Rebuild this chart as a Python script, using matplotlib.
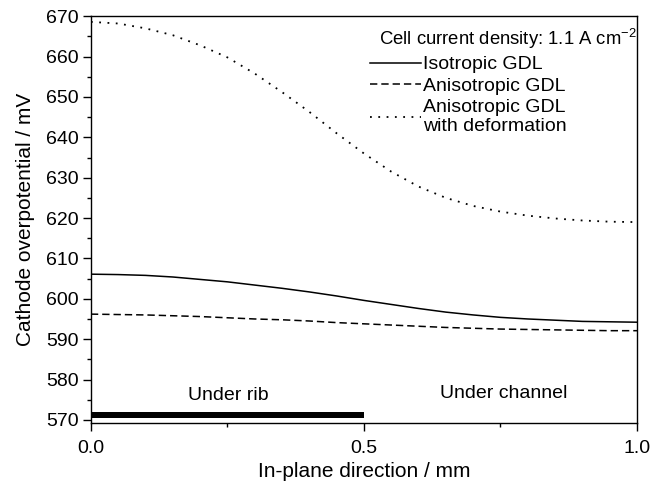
import matplotlib
matplotlib.use("Agg")
import matplotlib.pyplot as plt
from matplotlib.ticker import MultipleLocator

plt.rcParams['font.family'] = ['Liberation Sans', 'DejaVu Sans']

# in-plane position (mm)
pos = [0.0, 0.05, 0.1, 0.15, 0.2, 0.25, 0.3, 0.35, 0.4, 0.45, 0.5,
       0.55, 0.6, 0.65, 0.7, 0.75, 0.8, 0.85, 0.9, 0.95, 1.0]

# cathode overpotential (mV)
isotropic = [606.1, 606.0, 605.8, 605.4, 604.8, 604.2, 603.4, 602.6, 601.7, 600.7, 599.6,
             598.6, 597.6, 596.7, 596.0, 595.4, 595.0, 594.7, 594.4, 594.3, 594.2]
anisotropic = [596.2, 596.1, 596.0, 595.8, 595.6, 595.3, 595.0, 594.8, 594.5, 594.1, 593.8,
               593.5, 593.2, 592.9, 592.7, 592.5, 592.4, 592.3, 592.2, 592.1, 592.1]
deformed = [668.6, 668.2, 667.0, 665.3, 662.8, 659.8, 655.8, 651.2, 646.3, 641.0, 636.0,
            631.5, 627.8, 625.0, 623.0, 621.6, 620.6, 619.9, 619.4, 619.1, 619.0]

labels = ["Isotropic GDL", "Anisotropic GDL", "Anisotropic GDL\nwith deformation"]
rib = (0.0, 0.5)
rib_band = (570.5, 572.0)

fig = plt.figure(figsize=(6.54, 4.92), dpi=100)
ax = fig.add_axes([0.139, 0.140, 0.835, 0.827])

ax.plot(pos, isotropic, color='black', lw=1.1, label=labels[0])
ax.plot(pos, anisotropic, color='black', lw=1.1, ls=(0, (4.8, 2.6)), label=labels[1])
ax.plot(pos, deformed, color='black', lw=1.3, ls=(0, (1, 3.6)), label=labels[2])

# rib footprint
ax.fill_between(rib, rib_band[0], rib_band[1], color='black', lw=0)

ax.text(0.252, 576, "Under rib", ha='center', va='center', fontsize=14)
ax.text(0.755, 576.5, "Under channel", ha='center', va='center', fontsize=14)

ax.set_xlim(0, 1.0)
ax.set_ylim(569.2, 670)
ax.set_xticks([0.0, 0.5, 1.0])
ax.set_xticklabels(["0.0", "0.5", "1.0"])
ax.xaxis.set_minor_locator(MultipleLocator(0.25))
ax.yaxis.set_major_locator(MultipleLocator(10))
ax.yaxis.set_minor_locator(MultipleLocator(5))
ax.tick_params(which='major', direction='out', length=6, width=1, labelsize=14)
ax.tick_params(which='minor', direction='out', length=3, width=1)
ax.tick_params(axis='x', pad=6)
ax.tick_params(axis='y', pad=3)
for s in ax.spines.values():
    s.set_linewidth(1.0)

ax.set_xlabel("In-plane direction / mm", fontsize=15, labelpad=4)
ax.set_ylabel("Cathode overpotential / mV", fontsize=15, labelpad=8)

ax.text(0.999, 0.943, "Cell current density: 1.1 A cm$^{\\mathregular{-2}}$",
        transform=ax.transAxes, ha='right', va='center', fontsize=13.3)
ax.legend(loc='upper left', bbox_to_anchor=(0.511, 0.903), frameon=False,
          fontsize=14, handlelength=2.6, handletextpad=0.12,
          labelspacing=0.2, borderpad=0, borderaxespad=0)

fig.savefig("out.png", dpi=100)
